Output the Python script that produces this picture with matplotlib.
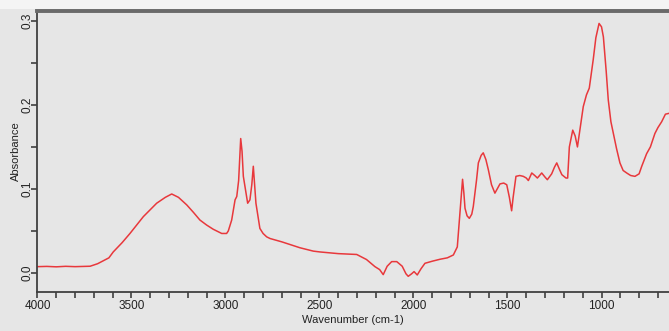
import matplotlib
matplotlib.use("Agg")
import matplotlib.pyplot as plt
from matplotlib.ticker import MultipleLocator, FixedLocator
from matplotlib.patches import Rectangle

wavenumber = [4000, 3950, 3900, 3850, 3800, 3760, 3720, 3680, 3659, 3620, 3597, 3550,
              3508, 3437, 3366, 3320, 3286, 3250, 3206, 3170, 3136, 3100, 3065, 3020,
              2994, 2985, 2967, 2949, 2940, 2930, 2919, 2912, 2905, 2882, 2870, 2860,
              2852, 2845, 2838, 2817, 2800, 2781, 2763, 2700, 2604, 2533, 2497, 2400,
              2302, 2250, 2205, 2180, 2161, 2140, 2116, 2089, 2060, 2040, 2028, 2010,
              1997, 1980, 1960, 1939, 1900, 1859, 1820, 1788, 1767, 1756, 1745, 1739,
              1732, 1726, 1715, 1703, 1690, 1682, 1665, 1655, 1640, 1629, 1615, 1602,
              1585, 1567, 1555, 1540, 1520, 1504, 1490, 1478, 1470, 1455, 1435, 1416,
              1400, 1389, 1371, 1355, 1341, 1318, 1300, 1288, 1265, 1250, 1238, 1225,
              1211, 1189, 1180, 1171, 1153, 1140, 1128, 1115, 1097, 1080, 1065, 1044,
              1030, 1013, 1000, 990, 975, 964, 950, 937, 920, 902, 885, 866, 845, 822,
              800, 786, 760, 740, 716, 700, 680, 660, 641]
absorbance = [0.0075, 0.0078, 0.0073, 0.0079, 0.0075, 0.0078, 0.0080, 0.0110, 0.0135, 0.0180, 0.0250, 0.0360,
              0.0470, 0.0670, 0.0830, 0.0900, 0.0940, 0.0900, 0.0810, 0.0720, 0.0630, 0.0570, 0.0520, 0.0470,
              0.0470, 0.0500, 0.0630, 0.0870, 0.0910, 0.1100, 0.1600, 0.1450, 0.1150, 0.0830, 0.0870, 0.1050,
              0.1270, 0.1050, 0.0830, 0.0530, 0.0470, 0.0430, 0.0410, 0.0370, 0.0300, 0.0260, 0.0250, 0.0230,
              0.0220, 0.0160, 0.0075, 0.0040, -0.0020, 0.0080, 0.0135, 0.0135, 0.0080, -0.0010, -0.0040, -0.0010,
              0.0016, -0.0024, 0.0050, 0.0115, 0.0140, 0.0163, 0.0180, 0.0214, 0.0310, 0.0630, 0.0950, 0.1115,
              0.0950, 0.0770, 0.0680, 0.0650, 0.0700, 0.0790, 0.1100, 0.1310, 0.1400, 0.1430, 0.1350, 0.1230,
              0.1050, 0.0950, 0.1000, 0.1060, 0.1070, 0.1050, 0.0900, 0.0740, 0.0900, 0.1150, 0.1160, 0.1150,
              0.1130, 0.1100, 0.1190, 0.1160, 0.1130, 0.1190, 0.1140, 0.1110, 0.1180, 0.1260, 0.1310, 0.1240,
              0.1170, 0.1130, 0.1130, 0.1500, 0.1700, 0.1630, 0.1500, 0.1700, 0.1980, 0.2120, 0.2200, 0.2540,
              0.2800, 0.2970, 0.2930, 0.2810, 0.2400, 0.2060, 0.1800, 0.1660, 0.1480, 0.1310, 0.1220, 0.1190, 0.1160, 0.1150,
              0.1180, 0.1270, 0.1420, 0.1500, 0.1660, 0.1730, 0.1800, 0.1890, 0.1900]

x_major = [4000, 3500, 3000, 2500, 2000, 1500, 1000]
y_major = [0.0, 0.1, 0.2, 0.3]
y_labels = ["0.0", "0.1", "0.2", "0.3"]

plt.rcParams['font.family'] = ['Liberation Sans', 'DejaVu Sans']
fig = plt.figure(figsize=(6.69, 3.31), dpi=100, facecolor='#e6e6e6')
fig.patches.append(Rectangle((0, 0.973), 1, 0.03, transform=fig.transFigure,
                             facecolor='#f4f4f4', edgecolor='none', zorder=0))
ax = fig.add_axes([0.056, 0.118, 0.944, 0.850])
ax.set_facecolor('#e6e6e6')
ax.plot(wavenumber, absorbance, color='#e8383c', lw=1.1)
ax.set_xlim(4000, 641)
ax.set_ylim(-0.0226, 0.3123)

ax.xaxis.set_major_locator(FixedLocator(x_major))
ax.xaxis.set_minor_locator(MultipleLocator(100))
ax.yaxis.set_major_locator(FixedLocator(y_major))
ax.yaxis.set_minor_locator(MultipleLocator(0.05))
ax.set_xticklabels([str(v) for v in x_major])
ax.set_yticklabels(y_labels, rotation=90, va='center')

for s in ['left', 'bottom']:
    ax.spines[s].set_color('#404040')
    ax.spines[s].set_linewidth(1.3)
ax.spines['top'].set_color('#6a6a6a')
ax.spines['top'].set_linewidth(2.8)
ax.spines['right'].set_visible(False)

ax.tick_params(which='both', direction='out', length=4, width=1.2, color='#404040',
               labelsize=8.5, labelcolor='#222222', pad=2)
ax.tick_params(axis='y', which='both', pad=-1)
ax.set_xlabel('Wavenumber (cm-1)', fontsize=8, color='#222222', labelpad=2)
ax.set_ylabel('Absorbance', fontsize=8, color='#222222', labelpad=0)

fig.savefig('out.png', dpi=100, facecolor=fig.get_facecolor())
